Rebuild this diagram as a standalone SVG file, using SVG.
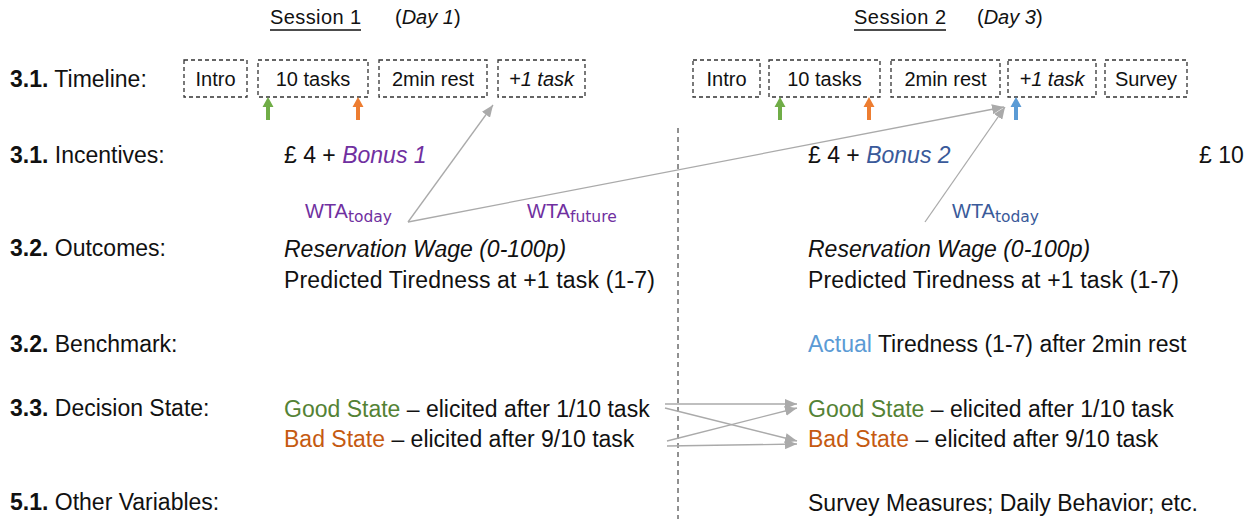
<svg xmlns="http://www.w3.org/2000/svg" width="1256" height="519" viewBox="0 0 1256 519">
<style>
text{font-family:"Liberation Sans",Arial,sans-serif;fill:#111}
.b{font-size:23px}
.s{font-size:20px}
.bold{font-weight:bold}
.it{font-style:italic}
.box{fill:none;stroke:#333;stroke-width:1.3;stroke-dasharray:4 3}
.gl{stroke:#aaa;stroke-width:1.3;fill:none}
.pur{fill:#7030a0}
.blu{fill:#3a5a9a}
.grn{fill:#548235}
.org{fill:#c55a11}
.lb{fill:#5b9bd5}
.sub{font-size:15.5px;font-family:"DejaVu Sans","Liberation Sans",sans-serif}
</style>
<defs>
<marker id="ah" viewBox="0 0 12 10" refX="12" refY="5" markerWidth="12" markerHeight="10" markerUnits="userSpaceOnUse" orient="auto">
<path d="M0,0 L12,5 L0,10 Z" fill="#aaa"/>
</marker>
</defs>

<g id="headers">
<text class="s" x="270" y="24" textLength="91">Session 1</text>
<line x1="270" y1="30" x2="361" y2="30" stroke="#111" stroke-width="1.3"/>
<text class="s" x="395" y="24">(<tspan class="it">Day 1</tspan>)</text>
<text class="s" x="854" y="24" textLength="92">Session 2</text>
<line x1="854" y1="30" x2="946" y2="30" stroke="#111" stroke-width="1.3"/>
<text class="s" x="977" y="24">(<tspan class="it">Day 3</tspan>)</text>
</g>

<g id="row-labels">
<text class="b" x="10" y="87"><tspan class="bold">3.1.</tspan> Timeline:</text>
<text class="b" x="10" y="163"><tspan class="bold">3.1.</tspan> Incentives:</text>
<text class="b" x="10" y="256"><tspan class="bold">3.2.</tspan> Outcomes:</text>
<text class="b" x="10" y="352"><tspan class="bold">3.2.</tspan> Benchmark:</text>
<text class="b" x="10" y="416"><tspan class="bold">3.3.</tspan> Decision State:</text>
<text class="b" x="10" y="510"><tspan class="bold">5.1.</tspan> Other Variables:</text>
</g>

<g id="s1-intro"><rect class="box" x="184" y="60" width="63" height="37"/><text class="s" x="215.5" y="86" text-anchor="middle">Intro</text></g>
<g id="s1-tasks"><rect class="box" x="258" y="60" width="110" height="37"/><text class="s" x="313" y="86" text-anchor="middle">10 tasks</text></g>
<g id="s1-rest"><rect class="box" x="379" y="60" width="108" height="37"/><text class="s" x="433" y="86" text-anchor="middle">2min rest</text></g>
<g id="s1-plus1"><rect class="box" x="498" y="60" width="87" height="37"/><text class="s it" x="541.5" y="86" text-anchor="middle">+1 task</text></g>

<g id="s2-intro"><rect class="box" x="693" y="60" width="67" height="37"/><text class="s" x="726.5" y="86" text-anchor="middle">Intro</text></g>
<g id="s2-tasks"><rect class="box" x="769" y="60" width="111" height="37"/><text class="s" x="824.5" y="86" text-anchor="middle">10 tasks</text></g>
<g id="s2-rest"><rect class="box" x="891" y="60" width="109" height="37"/><text class="s" x="945.5" y="86" text-anchor="middle">2min rest</text></g>
<g id="s2-plus1"><rect class="box" x="1008" y="60" width="88" height="37"/><text class="s it" x="1052" y="86" text-anchor="middle">+1 task</text></g>
<g id="s2-survey"><rect class="box" x="1105" y="60" width="82" height="37"/><text class="s" x="1146" y="86" text-anchor="middle">Survey</text></g>

<g id="markers">
<path d="M266,120 V107 H262.5 L268,97 L273.5,107 H270 V120 Z" fill="#70ad47"/>
<path d="M356,120 V107 H352.5 L358,97 L363.5,107 H360 V120 Z" fill="#ed7d31"/>
<path d="M778,120 V107 H774.5 L780,97 L785.5,107 H782 V120 Z" fill="#70ad47"/>
<path d="M867,120 V107 H863.5 L869,97 L874.5,107 H871 V120 Z" fill="#ed7d31"/>
<path d="M1014,120 V107 H1010.5 L1016,97 L1021.5,107 H1018 V120 Z" fill="#5b9bd5"/>
</g>

<g id="s1-incentive"><text class="b" x="284" y="163">£ 4 + <tspan class="it pur">Bonus 1</tspan></text></g>
<g id="s2-incentive"><text class="b" x="808" y="163">£ 4 + <tspan class="it blu">Bonus 2</tspan></text></g>
<g id="bonus-10"><text class="b" x="1199" y="163">£ 10</text></g>

<g id="wta-s1-today"><text class="s pur" x="305" y="218">WTA<tspan class="sub pur" dy="4">today</tspan></text></g>
<g id="wta-s1-future"><text class="s pur" x="527" y="218">WTA<tspan class="sub pur" dy="4">future</tspan></text></g>
<g id="wta-s2-today"><text class="s blu" x="952" y="218">WTA<tspan class="sub blu" dy="4">today</tspan></text></g>

<g id="s1-outcomes">
<text class="b it" x="284" y="257">Reservation Wage (0-100p)</text>
<text class="b" x="284" y="288" textLength="371">Predicted Tiredness at +1 task (1-7)</text>
</g>
<g id="s2-outcomes">
<text class="b it" x="808" y="257">Reservation Wage (0-100p)</text>
<text class="b" x="808" y="288" textLength="371">Predicted Tiredness at +1 task (1-7)</text>
</g>
<g id="s2-benchmark"><text class="b" x="808" y="352"><tspan class="lb">Actual</tspan> Tiredness (1-7) after 2min rest</text></g>

<g id="s1-states">
<text class="b" x="284" y="417"><tspan class="grn">Good State</tspan> – elicited after 1/10 task</text>
<text class="b" x="284" y="447"><tspan class="org">Bad State</tspan> – elicited after 9/10 task</text>
</g>
<g id="s2-states">
<text class="b" x="808" y="417"><tspan class="grn">Good State</tspan> – elicited after 1/10 task</text>
<text class="b" x="808" y="447"><tspan class="org">Bad State</tspan> – elicited after 9/10 task</text>
</g>
<g id="s2-other"><text class="b" x="808" y="511">Survey Measures; Daily Behavior; etc.</text></g>

<g id="divider"><line x1="678" y1="128" x2="678" y2="519" stroke="#222" stroke-width="1" stroke-dasharray="5 4"/></g>

<g id="connectors">
<line class="gl" x1="408" y1="222" x2="493" y2="105" marker-end="url(#ah)"/>
<line class="gl" x1="408" y1="222" x2="1004" y2="107" marker-end="url(#ah)"/>
<line class="gl" x1="925" y1="222" x2="1005" y2="107" marker-end="url(#ah)"/>
<line class="gl" x1="665" y1="404" x2="797" y2="404" marker-end="url(#ah)"/>
<line class="gl" x1="665" y1="408" x2="797" y2="441" marker-end="url(#ah)"/>
<line class="gl" x1="667" y1="441" x2="797" y2="408" marker-end="url(#ah)"/>
<line class="gl" x1="667" y1="446" x2="797" y2="444" marker-end="url(#ah)"/>
</g>
</svg>
